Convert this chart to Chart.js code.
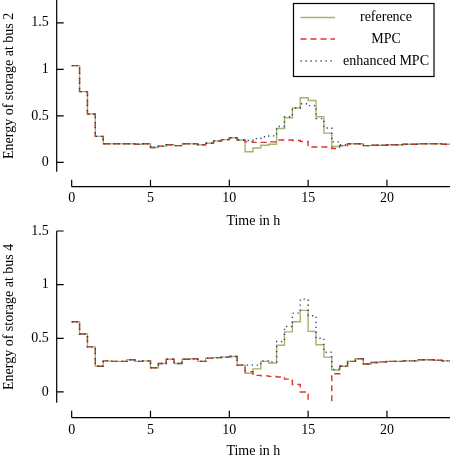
<!DOCTYPE html>
<html>
<head>
<meta charset="utf-8">
<script src="https://cdn.jsdelivr.net/npm/chart.js@4"></script>
<style>
  html, body { margin:0; padding:0; background:#fff; }
  #wrap { position:relative; width:450px; height:460px; overflow:hidden; }
  canvas { position:absolute; left:0; }
</style>
</head>
<body>
<div id="wrap">
  <canvas id="c1" width="450" height="230" style="top:0;width:450px;height:230px"></canvas>
  <canvas id="c2" width="450" height="245" style="top:215px;width:450px;height:245px"></canvas>
</div>
<script>
// ---- data ----
const hours = [0,0.5,1,1.5,2,2.5,3,3.5,4,4.5,5,5.5,6,6.5,7,7.5,8,8.5,9,9.5,10,10.5,11,11.5,12,12.5,13,13.5,14,14.5,15,15.5,16,16.5,17,17.5,18,18.5,19,19.5,20,20.5,21,21.5,22,22.5,23,23.5,24];
const xTickLabels = [0, 5, 10, 15, 20];
const yTickLabels = [0, 0.5, 1, 1.5];
const seriesNames = ['reference', 'MPC', 'enhanced MPC'];

// bus 2 (top panel)
const bus2Reference = [1.04,0.76,0.52,0.28,0.20,0.20,0.20,0.20,0.195,0.20,0.16,0.175,0.19,0.18,0.20,0.20,0.19,0.205,0.23,0.245,0.265,0.24,
  0.115,0.155,0.185,0.195,0.365,0.48,0.585,0.695,0.665,0.49,0.315,0.17,0.18,0.20,0.20,0.18,0.185,0.185,0.19,0.19,0.195,0.195,0.20,0.20,0.20,0.195];
const bus2MPC = [1.04,0.76,0.52,0.28,0.20,0.20,0.20,0.20,0.195,0.20,0.16,0.175,0.19,0.18,0.20,0.20,0.19,0.205,0.23,0.245,0.265,0.24,
  0.22,0.215,0.215,0.22,0.24,0.24,0.235,0.225,0.165,0.165,0.165,0.15,0.18,0.20,0.20,0.18,0.185,0.185,0.19,0.19,0.195,0.195,0.20,0.20,0.20,0.195];
const bus2Enhanced = [1.04,0.76,0.52,0.28,0.20,0.20,0.20,0.20,0.195,0.20,0.16,0.175,0.19,0.18,0.20,0.20,0.19,0.205,0.23,0.245,0.265,0.24,
  0.235,0.255,0.275,0.285,0.385,0.49,0.585,0.63,0.61,0.47,0.37,0.22,0.19,0.20,0.20,0.18,0.185,0.185,0.19,0.19,0.195,0.195,0.20,0.20,0.20,0.195];

// bus 4 (bottom panel)
const bus4Reference = [0.655,0.54,0.42,0.24,0.29,0.285,0.285,0.30,0.285,0.29,0.225,0.265,0.305,0.265,0.305,0.31,0.285,0.315,0.32,0.325,0.33,0.25,
  0.175,0.215,0.285,0.27,0.435,0.56,0.655,0.76,0.565,0.44,0.325,0.205,0.24,0.285,0.31,0.26,0.275,0.28,0.285,0.285,0.29,0.29,0.30,0.30,0.295,0.29];
const bus4MPC = [0.655,0.54,0.42,0.24,0.29,0.285,0.285,0.30,0.285,0.29,0.225,0.265,0.305,0.265,0.305,0.31,0.285,0.315,0.32,0.325,0.33,0.25,
  0.19,0.155,0.15,0.145,0.14,0.12,0.07,0.0,-0.5,-0.5,-0.5,0.17,0.24,0.285,0.31,0.26,0.275,0.28,0.285,0.285,0.29,0.29,0.30,0.30,0.295,0.29];
const bus4Enhanced = [0.655,0.54,0.42,0.24,0.29,0.285,0.285,0.30,0.285,0.29,0.225,0.265,0.305,0.265,0.305,0.31,0.285,0.315,0.32,0.325,0.33,0.25,
  0.25,0.25,0.29,0.28,0.47,0.61,0.735,0.865,0.71,0.50,0.37,0.21,0.24,0.285,0.31,0.26,0.275,0.28,0.285,0.285,0.29,0.29,0.30,0.30,0.295,0.29];

// ---- styles ----
const FONT = "'Liberation Serif', 'Times New Roman', serif";
const colRef = '#a3b56c';
const colMPC = '#d8362b';
const colEnh = '#27476a';

function pts(vals) {
  return hours.map((h, i) => ({ x: h, y: vals[Math.min(i, vals.length - 1)] }));
}
function datasets(ref, mpc, enh) {
  return [
    { label: seriesNames[0], data: pts(ref), borderColor: colRef, borderWidth: 1.4, order: 3 },
    { label: seriesNames[1], data: pts(mpc), borderColor: colMPC, borderWidth: 1.4, borderDash: [6, 4], order: 2 },
    { label: seriesNames[2], data: pts(enh), borderColor: colEnh, borderWidth: 1.4, borderDash: [1.3, 3.7], order: 1 }
  ].map(d => Object.assign(d, { stepped: 'before', pointRadius: 0, fill: false, tension: 0 }));
}

const axesPlugin = {
  id: 'offsetAxes',
  afterDraw(chart) {
    const ctx = chart.ctx, ca = chart.chartArea;
    const xs = chart.scales.x, ys = chart.scales.y;
    ctx.save();
    ctx.strokeStyle = '#000';
    ctx.lineWidth = 1.2;
    ctx.setLineDash([]);
    // y axis
    const yx = ca.left;
    ctx.beginPath();
    ctx.moveTo(yx, ca.top); ctx.lineTo(yx, ca.bottom);
    yTickLabels.forEach(v => {
      const p = ys.getPixelForValue(v);
      ctx.moveTo(yx, p); ctx.lineTo(yx + 7, p);
    });
    // x axis (offset below)
    const ay = ca.bottom + 15;
    ctx.moveTo(xs.getPixelForValue(0), ay); ctx.lineTo(xs.getPixelForValue(24), ay);
    xTickLabels.forEach(v => {
      const p = xs.getPixelForValue(v);
      ctx.moveTo(p, ay); ctx.lineTo(p, ay - 7);
    });
    ctx.stroke();
    ctx.restore();
  }
};

const legendPlugin = {
  id: 'boxLegend',
  afterDraw(chart, args, opts) {
    if (!opts || !opts.show) return;
    const ctx = chart.ctx;
    const left = 293.5, top = 3.5, right = 434, bottom = 76.5;
    ctx.save();
    ctx.fillStyle = '#fff';
    ctx.fillRect(left, top, right - left, bottom - top);
    ctx.strokeStyle = '#000';
    ctx.lineWidth = 1.2;
    ctx.setLineDash([]);
    ctx.strokeRect(left, top, right - left, bottom - top);
    const rows = [17.5, 39, 61];
    ctx.font = '14px ' + FONT;
    ctx.textAlign = 'center';
    ctx.textBaseline = 'middle';
    chart.data.datasets.forEach((ds, i) => {
      const y = rows[i];
      ctx.strokeStyle = ds.borderColor;
      ctx.lineWidth = ds.borderWidth;
      ctx.setLineDash(ds.borderDash || []);
      ctx.beginPath();
      ctx.moveTo(300.5, y); ctx.lineTo(335, y);
      ctx.stroke();
      ctx.fillStyle = '#000';
      ctx.fillText(ds.label, 386, y);
    });
    ctx.restore();
  }
};

function makeChart(id, dsets, opt) {
  return new Chart(document.getElementById(id), {
    type: 'line',
    data: { datasets: dsets },
    plugins: [axesPlugin, legendPlugin],
    options: {
      responsive: false,
      animation: false,
      devicePixelRatio: 1,
      layout: { padding: { top: opt.padTop, left: 0, right: 0, bottom: 0 } },
      plugins: {
        legend: { display: false },
        tooltip: { enabled: false },
        boxLegend: { show: opt.legend }
      },
      scales: {
        x: {
          type: 'linear',
          min: -0.95, max: 24,
          afterBuildTicks: s => { s.ticks = xTickLabels.map(v => ({ value: v })); },
          afterFit: s => { s.height = opt.xHeight; s.paddingLeft = 0; s.paddingRight = 0; },
          grid: { display: false, drawTicks: false },
          border: { display: false },
          ticks: { padding: opt.xPad, maxRotation: 0, autoSkip: false, color: '#000', font: { family: FONT, size: 14 } },
          title: { display: true, text: 'Time in h', color: '#000', padding: { top: 0, bottom: 0 }, font: { family: FONT, size: 14 } }
        },
        y: {
          type: 'linear',
          min: -0.1, max: opt.yMax,
          afterBuildTicks: s => { s.ticks = yTickLabels.map(v => ({ value: v })); },
          afterFit: s => { s.width = 56.7; s.paddingTop = 0; s.paddingBottom = 0; },
          grid: { display: false, drawTicks: false },
          border: { display: false },
          ticks: { padding: 8, color: '#000', font: { family: FONT, size: 14 }, callback: v => String(v) },
          title: { display: true, text: opt.yTitle, color: '#000', padding: { top: 1, bottom: 0 }, font: { family: FONT, size: 14 } }
        }
      }
    }
  });
}

makeChart('c1', datasets(bus2Reference, bus2MPC, bus2Enhanced),
  { padTop: 0, xHeight: 58.3, xPad: 18, yMax: 1.745, yTitle: 'Energy of storage at bus 2', legend: true });
makeChart('c2', datasets(bus4Reference, bus4MPC, bus4Enhanced),
  { padTop: 16, xHeight: 57.3, xPad: 19, yMax: 1.5, yTitle: 'Energy of storage at bus 4', legend: false });
</script>
</body>
</html>
